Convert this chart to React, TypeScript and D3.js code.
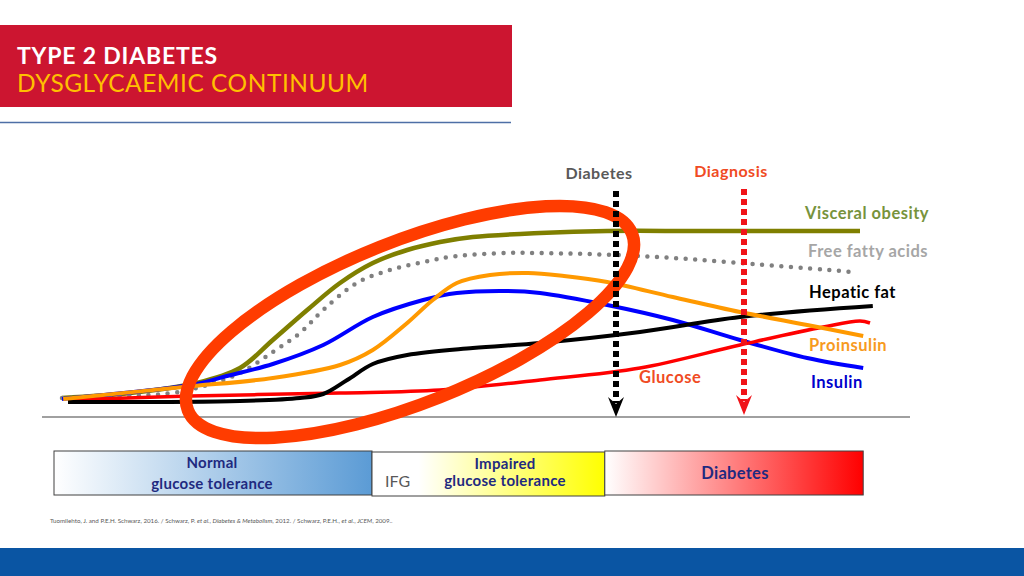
import React from 'react';
import * as d3 from 'd3';

type Pt = [number, number];

// time (0-100) vs relative level (0-100)
const visceralObesity: Pt[] = [[0.25, 9.5], [8.75, 12], [17.1, 17], [22.5, 24.5], [26.6, 38.5], [30.9, 53.5], [35, 67], [39.1, 77], [43.4, 83.5], [47.5, 87.5], [51.6, 90], [60, 92], [68.4, 93], [80, 93], [100, 93]];
const freeFattyAcids: Pt[] = [[0.25, 9.5], [14.1, 12], [18.4, 16], [22.5, 22], [26.6, 32.5], [30, 42], [32.9, 53.5], [37.1, 67], [41.25, 73.5], [45.4, 77.5], [49.6, 80.5], [55.9, 82], [60, 82], [72.5, 80.5], [85, 77], [99.1, 72.5]];
const insulin: Pt[] = [[0.25, 9], [17.1, 16.5], [20.4, 20], [26.6, 26.5], [32.9, 36], [39.1, 50], [45.4, 58.5], [49.6, 62], [55.9, 63], [60, 62], [68.4, 56], [76.6, 48.5], [85, 38.5], [93.4, 29.5], [100.4, 24.5]];
const proinsulin: Pt[] = [[0.4, 9], [15.4, 15], [26.6, 19.5], [35, 26], [39.1, 33.5], [43.4, 47], [46.6, 58.5], [49.6, 67], [53.75, 71], [58.5, 72], [63, 70.5], [68.4, 67.5], [76.6, 60], [85, 52.5], [93.4, 46], [100.4, 40.5]];
const hepaticFat: Pt[] = [[1, 7.5], [22.5, 8], [30, 9.5], [32.9, 11.5], [35.9, 18.5], [39.1, 26.5], [43.4, 31], [51.6, 34.5], [60, 37], [72.5, 42.5], [85, 50], [101.6, 55.5]];
const glucose: Pt[] = [[1, 8.5], [16.25, 10.5], [35, 12], [47.5, 13.5], [60, 18.5], [72.5, 24.5], [85, 36], [95.4, 45], [100, 48], [101.25, 47]];

// highlighted early phase (centre in data units)
const earlyPhaseCenter: Pt = [43.75, 47.5];

// timeline markers
const markerDiabetes = 69.5;
const markerDiagnosis = 85.5;

// phases along the bottom band
const phaseNames = ['Normal glucose tolerance', 'Impaired glucose tolerance', 'Diabetes'];
const phaseStarts = [-0.75, 39, 68.1];
const phaseEnds = [39, 68.1, 100.4];

const citationText = 'Tuomilehto, J. and P.E.H. Schwarz, 2016. / Schwarz, P. ';

const FONT = 'Lato, "Open Sans", sans-serif';

export default function App() {
  const x = d3.scaleLinear().domain([0, 100]).range([60, 860]);
  const y = d3.scaleLinear().domain([0, 100]).range([417, 217]);
  const line = d3.line<Pt>().x(d => x(d[0])).y(d => y(d[1])).curve(d3.curveCatmullRom.alpha(0.5));

  const series = [
    { key: 'vo', data: visceralObesity, color: '#7F7F00', w: 4.5, dots: false },
    { key: 'ffa', data: freeFattyAcids, color: '#808080', w: 4.5, dots: true },
    { key: 'ins', data: insulin, color: '#0000FF', w: 4, dots: false },
    { key: 'glu', data: glucose, color: '#FF0000', w: 3.5, dots: false },
    { key: 'hep', data: hepaticFat, color: '#000000', w: 4, dots: false },
    { key: 'pro', data: proinsulin, color: '#FF9900', w: 4, dots: false },
  ];

  const arrow = (t: number, tipY: number, topY: number, color: string) => {
    const px = x(t);
    return (
      <g>
        <line x1={px} x2={px} y1={topY} y2={tipY - 14} stroke={color} strokeWidth={6} strokeDasharray="6 4" />
        <path d={`M${px - 8},${tipY - 20} L${px},${tipY} L${px + 8},${tipY - 20} L${px},${tipY - 13} Z`} fill={color} />
      </g>
    );
  };

  const gradColors = [['#FFFFFF', '#5B9BD5'], ['#FFFFFF', '#FFFF00'], ['#FFFFFF', '#FF0000']];
  const ecx = x(earlyPhaseCenter[0]);
  const ecy = y(earlyPhaseCenter[1]);

  return (
    <svg width={1024} height={576} style={{ position: 'absolute', left: 0, top: 0, background: '#fff' }} fontFamily={FONT}>
      <defs>
        {gradColors.map((c, i) => (
          <linearGradient key={i} id={`g${i}`} x1="0" x2="1" y1="0" y2="0">
            <stop offset={i === 1 ? '0.2' : '0'} stopColor={c[0]} />
            <stop offset="1" stopColor={c[1]} />
          </linearGradient>
        ))}
      </defs>
      <rect x={0} y={0} width={1024} height={576} fill="#fff" />
      {/* header */}
      <rect x={0} y={25} width={512} height={82} fill="#CC1530" />
      <text x={17} y={63.5} fill="#fff" fontWeight={700} fontSize={23} letterSpacing={0.8}>TYPE 2 DIABETES</text>
      <text x={17} y={92} fill="#FFC000" fontWeight={400} fontSize={24.5} letterSpacing={0.5}>DYSGLYCAEMIC CONTINUUM</text>
      <line x1={0} x2={511} y1={122.5} y2={122.5} stroke="#4E6FA6" strokeWidth={1.5} />

      {/* baseline */}
      <line x1={42} x2={910} y1={417} y2={417} stroke="#A0A0A0" strokeWidth={2} />

      {series.map(s => (
        <path key={s.key} d={line(s.data) || ''} fill="none" stroke={s.color} strokeWidth={s.w}
          strokeLinecap={s.dots ? 'round' : 'butt'} strokeDasharray={s.dots ? '0 9.6' : undefined} />
      ))}

      <ellipse cx={ecx} cy={ecy} rx={239} ry={81} transform={`rotate(-21.7 ${ecx} ${ecy})`}
        fill="none" stroke="#FF3C00" strokeWidth={12.5} />

      {arrow(markerDiabetes, 417, 191, '#000')}
      {arrow(markerDiagnosis, 415, 189, '#F01419')}

      <text x={599} y={179} textAnchor="middle" fill="#595959" fontWeight={700} fontSize={16} letterSpacing={0.5}>Diabetes</text>
      <text x={731} y={177} textAnchor="middle" fill="#F04B23" fontWeight={700} fontSize={16} letterSpacing={0.5}>Diagnosis</text>

      <g fontWeight={700} fontSize={16.5} letterSpacing={0.5}>
        <text x={805} y={219} fill="#77933C">Visceral obesity</text>
        <text x={808} y={257} fill="#A6A6A6">Free fatty acids</text>
        <text x={809} y={298} fill="#000">Hepatic fat</text>
        <text x={809} y={351} fill="#F79A1E">Proinsulin</text>
        <text x={811} y={388} fill="#0000CC">Insulin</text>
        <text x={639} y={383} fill="#F04B23">Glucose</text>
      </g>

      {/* phase band */}
      {phaseNames.map((n, i) => (
        <rect key={n} x={x(phaseStarts[i])} y={i === 1 ? 452 : 451} width={x(phaseEnds[i]) - x(phaseStarts[i])} height={44}
          fill={`url(#g${i})`} stroke="#404040" strokeWidth={1} />
      ))}
      <g fontWeight={700} fontSize={15} fill="#1F2A80" textAnchor="middle" letterSpacing={0.3}>
        <text x={212} y={468}>Normal</text>
        <text x={212} y={489}>glucose tolerance</text>
        <text x={505} y={469}>Impaired</text>
        <text x={505} y={486}>glucose tolerance</text>
        <text x={735} y={479} fontSize={16.5}>Diabetes</text>
      </g>
      <text x={385} y={487} fill="#595959" fontSize={16}>IFG</text>

      <text x={50} y={523} fontSize={6.2} fill="#595959">
        {citationText}
        <tspan fontStyle="italic">et al.</tspan>
        {', '}
        <tspan fontStyle="italic">Diabetes &amp; Metabolism</tspan>
        {', 2012. /  Schwarz, P.E.H., '}
        <tspan fontStyle="italic">et al.</tspan>
        {', '}
        <tspan fontStyle="italic">JCEM</tspan>
        {', 2009..'}
      </text>

      <rect x={0} y={548} width={1024} height={28} fill="#0A55A3" />
    </svg>
  );
}
